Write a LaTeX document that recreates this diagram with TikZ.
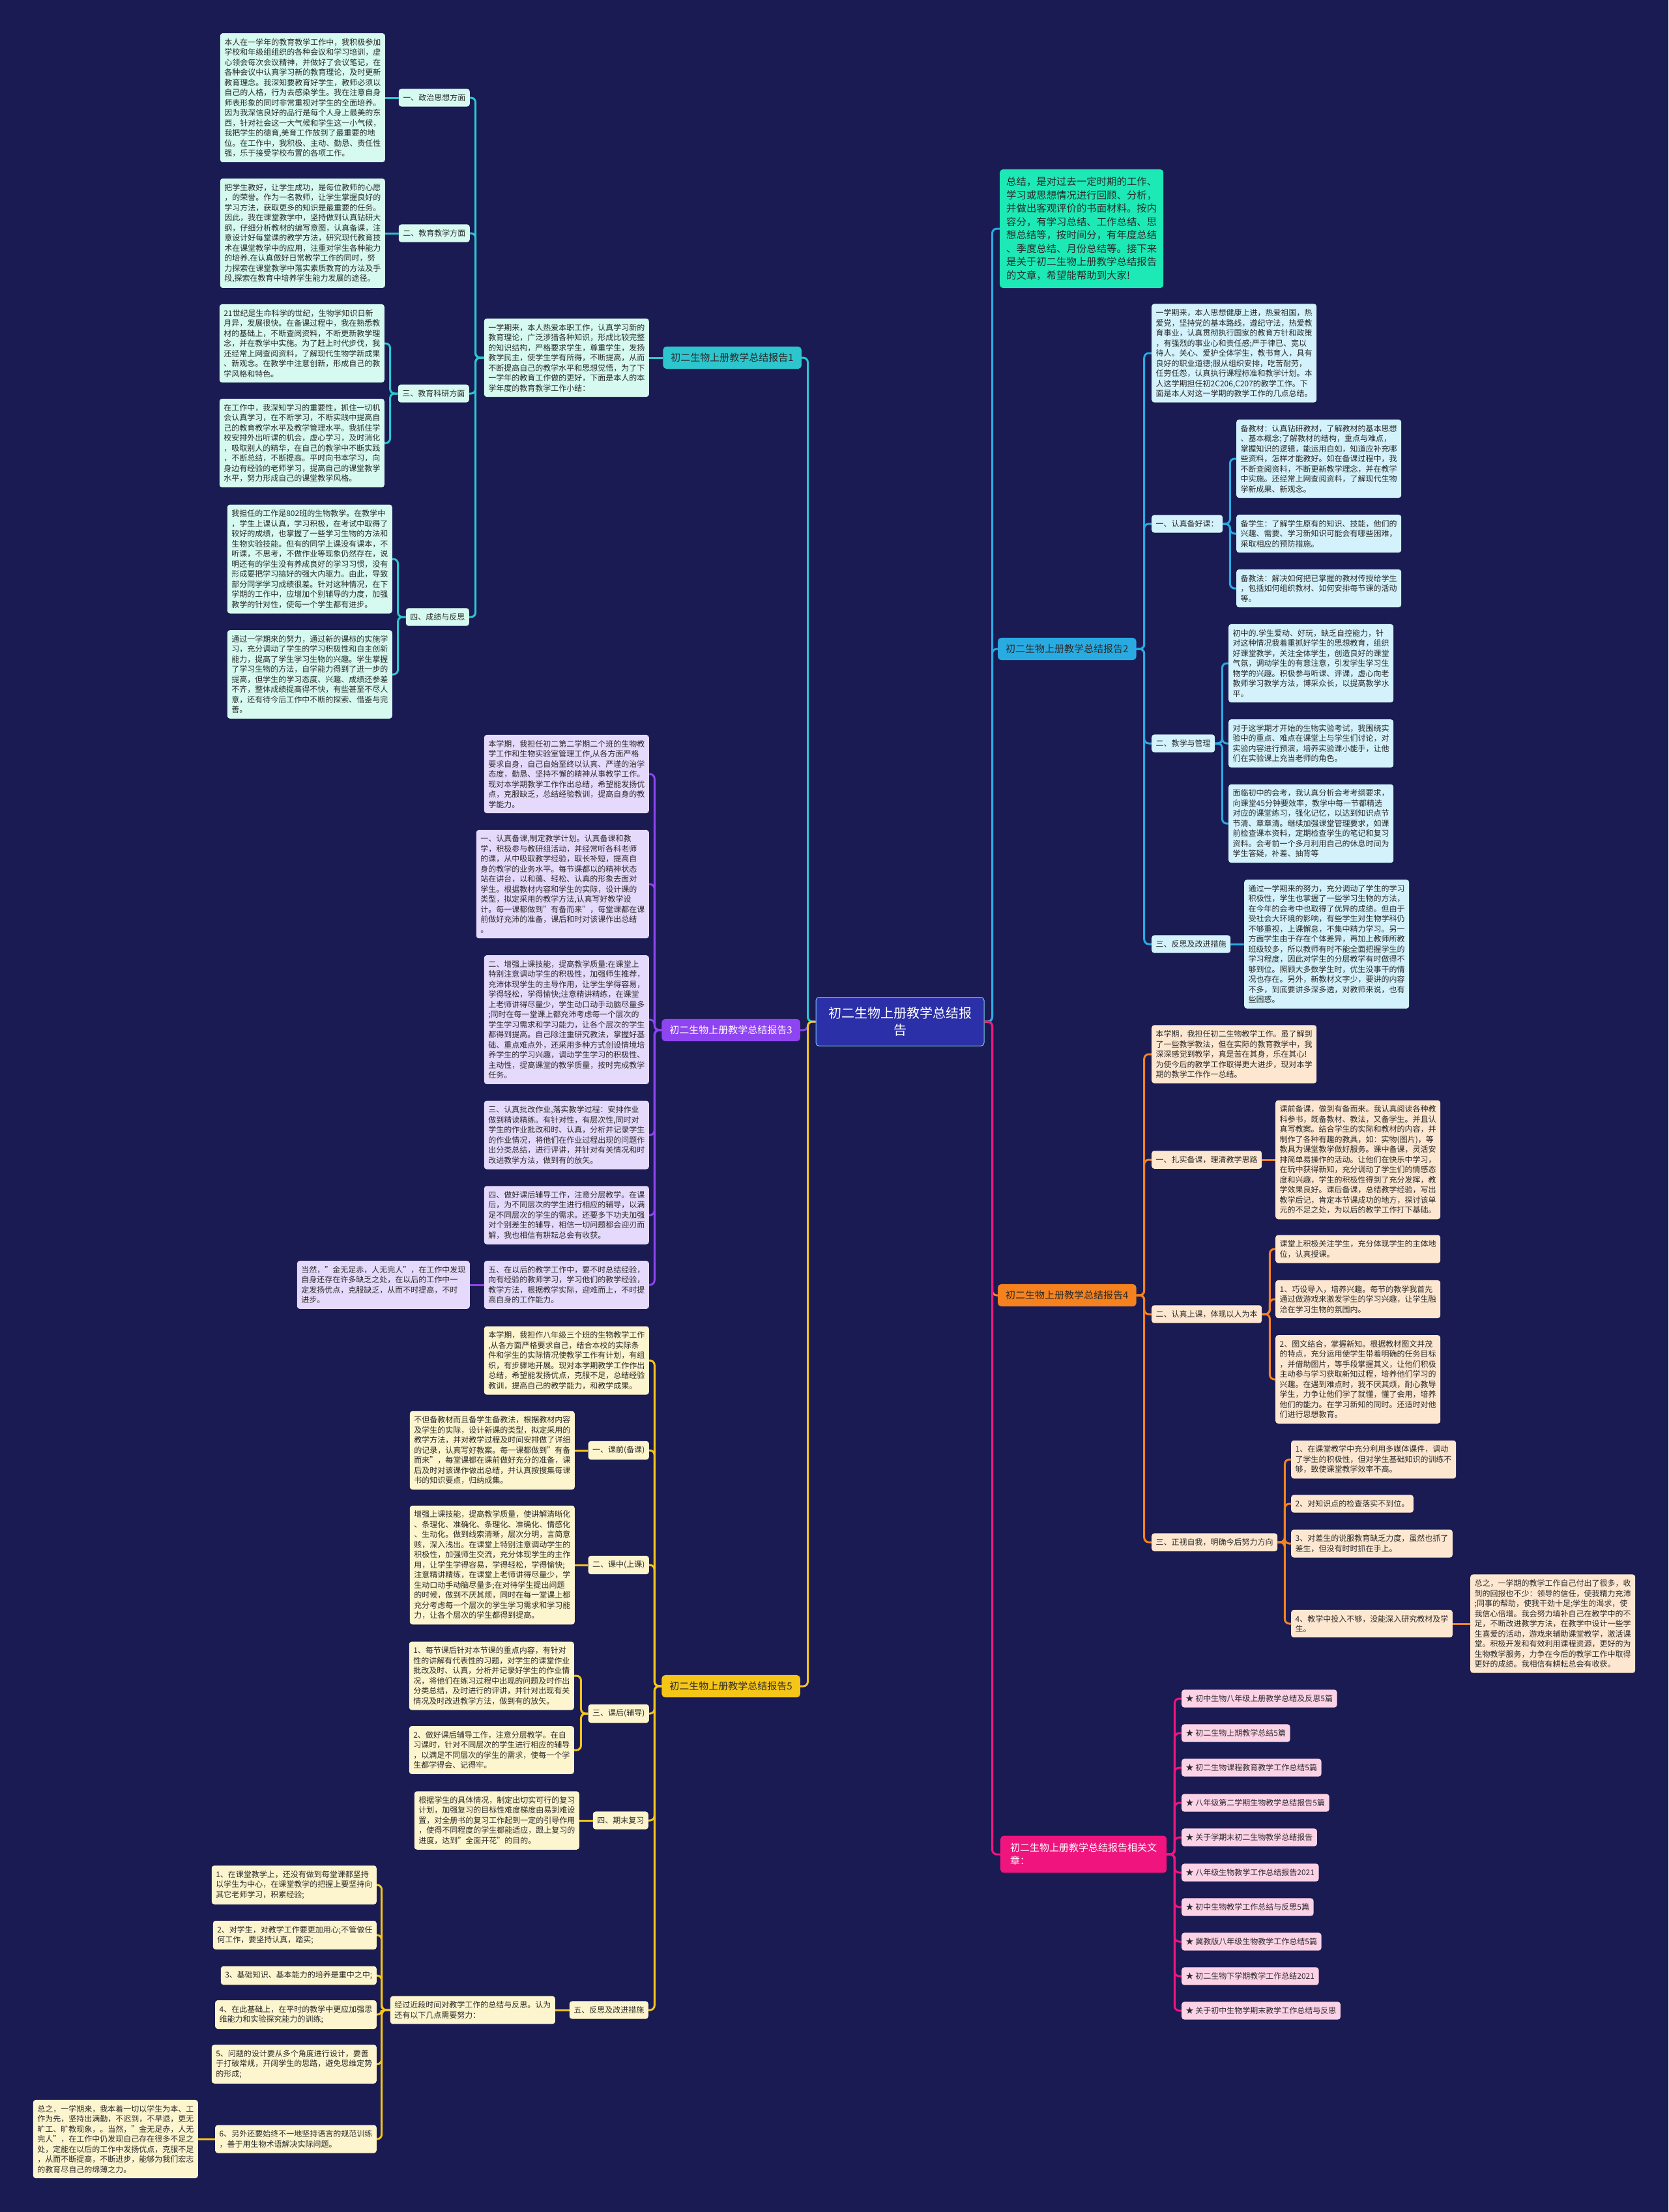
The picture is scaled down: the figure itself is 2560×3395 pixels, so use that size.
\documentclass[tikz,border=0pt]{standalone}
\usepackage{fontspec}
\setmainfont{Noto Sans CJK SC}

\definecolor{bgnavy}{HTML}{1A1B52}
\definecolor{txtdark}{HTML}{2B2B2B}
\definecolor{ctrblue}{HTML}{2B2FA8}
\definecolor{tealline}{HTML}{2DC6CF}
\definecolor{tealfill}{HTML}{D6FAF0}
\definecolor{blueline}{HTML}{29ABE2}
\definecolor{bluefill}{HTML}{D3F2FC}
\definecolor{mintfill}{HTML}{1DE9B6}
\definecolor{purpline}{HTML}{8E44F0}
\definecolor{purpfill}{HTML}{E6DAFC}
\definecolor{orngline}{HTML}{F5821F}
\definecolor{orngfill}{HTML}{FDE7D0}
\definecolor{yellline}{HTML}{F5C518}
\definecolor{yellfill}{HTML}{FDF5CE}
\definecolor{pinkline}{HTML}{F0157E}
\definecolor{pinkfill}{HTML}{FCD2E6}

\tikzset{
  leaf/.style={rectangle, rounded corners=4pt, align=left, inner xsep=6.5pt, inner ysep=8pt,
    text=txtdark, font=\fontsize{12}{15.5}\selectfont},
  tealleaf/.style={leaf, fill=tealfill},
  blueleaf/.style={leaf, fill=bluefill},
  purpleaf/.style={leaf, fill=purpfill},
  orngleaf/.style={leaf, fill=orngfill},
  yellleaf/.style={leaf, fill=yellfill},
  pinkleaf/.style={leaf, fill=pinkfill},
  branch/.style={rectangle, rounded corners=5pt, inner xsep=12pt, inner ysep=10pt,
    font=\fontsize{15}{20}\selectfont},
  tealedge/.style={draw=tealline, line width=3pt, rounded corners=7pt},
  blueedge/.style={draw=blueline, line width=3pt, rounded corners=7pt},
  purpedge/.style={draw=purpline, line width=3pt, rounded corners=7pt},
  orngedge/.style={draw=orngline, line width=3pt, rounded corners=7pt},
  welledge/.style={draw=yellline, line width=3pt, rounded corners=7pt},
  pinkedge/.style={draw=pinkline, line width=3pt, rounded corners=7pt},
}

\begin{document}
\begin{tikzpicture}[x=1pt, y=-1pt]
  \fill[bgnavy] (0,0) rectangle (2560,3395);
  \useasboundingbox (0,0) rectangle (2560,3395);

  % Nodes
  \node (ctr) [rectangle, rounded corners=5pt, fill=ctrblue, draw=blueline!60, line width=1pt, text=white,
    align=center, inner xsep=19pt, inner ysep=15pt, font=\fontsize{20}{26}\selectfont]
    at (1381,1568) {初二生物上册教学总结报\\告};

  % report 1
  \node (r1) [branch, fill=tealline, text=txtdark, anchor=east] at (1230,549) {初二生物上册教学总结报告1};
  \node (in1) [tealleaf, anchor=east] at (996,549) {一学期来，本人热爱本职工作，认真学习新的\\
    教育理论，广泛涉猎各种知识，形成比较完整\\
    的知识结构，严格要求学生，尊重学生，发扬\\
    教学民主，使学生学有所得，不断提高，从而\\
    不断提高自己的教学水平和思想觉悟，为了下\\
    一学年的教育工作做的更好，下面是本人的本\\
    学年度的教育教学工作小结：};
  \node (l1) [tealleaf, anchor=east] at (721,150) {一、政治思想方面};
  \node (l2) [tealleaf, anchor=east] at (721,358) {二、教育教学方面};
  \node (l3) [tealleaf, anchor=east] at (720,604) {三、教育科研方面};
  \node (l4) [tealleaf, anchor=east] at (720,947) {四、成绩与反思};
  \node (a1) [tealleaf, anchor=east] at (591,150) {本人在一学年的教育教学工作中，我积极参加\\
    学校和年级组组织的各种会议和学习培训，虚\\
    心领会每次会议精神，并做好了会议笔记，在\\
    各种会议中认真学习新的教育理论，及时更新\\
    教育理念。我深知要教育好学生，教师必须以\\
    自己的人格，行为去感染学生。我在注意自身\\
    师表形象的同时非常重视对学生的全面培养。\\
    因为我深信良好的品行是每个人身上最美的东\\
    西，针对社会这一大气候和学生这一小气候，\\
    我把学生的德育,美育工作放到了最重要的地\\
    位。在工作中，我积极、主动、勤恳、责任性\\
    强，乐于接受学校布置的各项工作。};
  \node (a2) [tealleaf, anchor=east] at (591,358) {把学生教好，让学生成功，是每位教师的心愿\\
    ，的荣誉。作为一名教师，让学生掌握良好的\\
    学习方法，获取更多的知识是最重要的任务。\\
    因此，我在课堂教学中，坚持做到认真钻研大\\
    纲，仔细分析教材的编写意图，认真备课，注\\
    意设计好每堂课的教学方法，研究现代教育技\\
    术在课堂教学中的应用，注重对学生各种能力\\
    的培养.在认真做好日常教学工作的同时，努\\
    力探索在课堂教学中落实素质教育的方法及手\\
    段,探索在教育中培养学生能力发展的途径。};
  \node (a3) [tealleaf, anchor=east] at (590,527) {21世纪是生命科学的世纪，生物学知识日新\\
    月异，发展很快。在备课过程中，我在熟悉教\\
    材的基础上，不断查阅资料，不断更新教学理\\
    念，并在教学中实施。为了赶上时代步伐，我\\
    还经常上网查阅资料，了解现代生物学新成果\\
    、新观念。在教学中注意创新，形成自己的教\\
    学风格和特色。};
  \node (a4) [tealleaf, anchor=east] at (590,680) {在工作中，我深知学习的重要性，抓住一切机\\
    会认真学习，在不断学习，不断实践中提高自\\
    己的教育教学水平及教学管理水平。我抓住学\\
    校安排外出听课的机会，虚心学习，及时消化\\
    ，吸取别人的精华，在自己的教学中不断实践\\
    ，不断总结，不断提高。平时向书本学习，向\\
    身边有经验的老师学习，提高自己的课堂教学\\
    水平，努力形成自己的课堂教学风格。};
  \node (a5) [tealleaf, anchor=east] at (602,858) {我担任的工作是802班的生物教学。在教学中\\
    ，学生上课认真，学习积极，在考试中取得了\\
    较好的成绩，也掌握了一些学习生物的方法和\\
    生物实验技能。但有的同学上课没有课本，不\\
    听课，不思考，不做作业等现象仍然存在，说\\
    明还有的学生没有养成良好的学习习惯，没有\\
    形成要把学习搞好的强大内驱力。由此，导致\\
    部分同学学习成绩很差。针对这种情况，在下\\
    学期的工作中，应增加个别辅导的力度，加强\\
    教学的针对性，使每一个学生都有进步。};
  \node (a6) [tealleaf, anchor=east] at (602,1035) {通过一学期来的努力，通过新的课标的实施学\\
    习，充分调动了学生的学习积极性和自主创新\\
    能力，提高了学生学习生物的兴趣。学生掌握\\
    了学习生物的方法，自学能力得到了进一步的\\
    提高，但学生的学习态度、兴趣、成绩还参差\\
    不齐，整体成绩提高得不快，有些甚至不尽人\\
    意，还有待今后工作中不断的探索、借鉴与完\\
    善。};

  % report 3
  \node (r3) [branch, fill=purpline, text=white, anchor=east] at (1228,1581) {初二生物上册教学总结报告3};
  \node (b0) [purpleaf, anchor=east] at (996,1188) {本学期，我担任初二第二学期二个班的生物教\\
    学工作和生物实验室管理工作,从各方面严格\\
    要求自身，自己自始至终以认真、严谨的治学\\
    态度，勤恳、坚持不懈的精神从事教学工作。\\
    现对本学期教学工作作出总结，希望能发扬优\\
    点，克服缺乏，总结经验教训，提高自身的教\\
    学能力。};
  \node (b1) [purpleaf, anchor=east] at (996,1357) {一、认真备课,制定教学计划。认真备课和教\\
    学，积极参与教研组活动，并经常听各科老师\\
    的课，从中吸取教学经验，取长补短，提高自\\
    身的教学的业务水平。每节课都以的精神状态\\
    站在讲台，以和蔼、轻松、认真的形象去面对\\
    学生。根据教材内容和学生的实际，设计课的\\
    类型，拟定采用的教学方法,认真写好教学设\\
    计。每一课都做到"有备而来"，每堂课都在课\\
    前做好充沛的准备，课后和时对该课作出总结\\
    。};
  \node (b2) [purpleaf, anchor=east] at (996,1565) {二、增强上课技能，提高教学质量:在课堂上\\
    特别注意调动学生的积极性，加强师生推荐，\\
    充沛体现学生的主导作用，让学生学得容易，\\
    学得轻松，学得愉快;注意精讲精练，在课堂\\
    上老师讲得尽量少，学生动口动手动脑尽量多\\
    ;同时在每一堂课上都充沛考虑每一个层次的\\
    学生学习需求和学习能力，让各个层次的学生\\
    都得到提高。自己除注重研究教法，掌握好基\\
    础、重点难点外，还采用多种方式创设情境培\\
    养学生的学习兴趣，调动学生学习的积极性、\\
    主动性，提高课堂的教学质量，按时完成教学\\
    任务。};
  \node (b3) [purpleaf, anchor=east] at (996,1742) {三、认真批改作业,落实教学过程：安排作业\\
    做到精读精练。有针对性，有层次性,同时对\\
    学生的作业批改和时、认真，分析并记录学生\\
    的作业情况，将他们在作业过程出现的问题作\\
    出分类总结，进行评讲，并针对有关情况和时\\
    改进教学方法，做到有的放矢。};
  \node (b4) [purpleaf, anchor=east] at (996,1865) {四、做好课后辅导工作，注意分层教学。在课\\
    后，为不同层次的学生进行相应的辅导，以满\\
    足不同层次的学生的需求。还要多下功夫加强\\
    对个别差生的辅导，相信一切问题都会迎刃而\\
    解，我也相信有耕耘总会有收获。};
  \node (b5) [purpleaf, anchor=east] at (996,1972) {五、在以后的教学工作中，要不时总结经验，\\
    向有经验的教师学习，学习他们的教学经验，\\
    教学方法，根据教学实际，迎难而上，不时提\\
    高自身的工作能力。};
  \node (b5n) [purpleaf, anchor=east] at (721,1972) {当然，"金无足赤，人无完人"，在工作中发现\\
    自身还存在许多缺乏之处，在以后的工作中一\\
    定发扬优点，克服缺乏，从而不时提高，不时\\
    进步。};

  % report 5
  \node (r5) [branch, fill=yellline, text=txtdark, anchor=east] at (1228,2588) {初二生物上册教学总结报告5};
  \node (c0) [yellleaf, anchor=east] at (996,2088) {本学期，我担作八年级三个班的生物教学工作\\
    ,从各方面严格要求自己，结合本校的实际条\\
    件和学生的实际情况使教学工作有计划，有组\\
    织，有步骤地开展。现对本学期教学工作作出\\
    总结，希望能发扬优点，克服不足，总结经验\\
    教训，提高自己的教学能力，和教学成果。};
  \node (k1) [yellleaf, anchor=east] at (996,2226) {一、课前(备课)};
  \node (k2) [yellleaf, anchor=east] at (996,2402) {二、课中(上课)};
  \node (k3) [yellleaf, anchor=east] at (996,2630) {三、课后(辅导)};
  \node (k4) [yellleaf, anchor=east] at (995,2794) {四、期末复习};
  \node (k5) [yellleaf, anchor=east] at (995,3085) {五、反思及改进措施};
  \node (c1) [yellleaf, anchor=east] at (882,2226) {不但备教材而且备学生备教法，根据教材内容\\
    及学生的实际，设计新课的类型，拟定采用的\\
    教学方法，并对教学过程及时间安排做了详细\\
    的记录，认真写好教案。每一课都做到"有备\\
    而来"，每堂课都在课前做好充分的准备，课\\
    后及时对该课作做出总结，并认真按搜集每课\\
    书的知识要点，归纳成集。};
  \node (c2) [yellleaf, anchor=east] at (882,2402) {增强上课技能，提高教学质量，使讲解清晰化\\
    、条理化、准确化、条理化、准确化、情感化\\
    、生动化。做到线索清晰，层次分明，言简意\\
    赅，深入浅出。在课堂上特别注意调动学生的\\
    积极性，加强师生交流，充分体现学生的主作\\
    用，让学生学得容易，学得轻松，学得愉快;\\
    注意精讲精练，在课堂上老师讲得尽量少，学\\
    生动口动手动脑尽量多;在对待学生提出问题\\
    的时候，做到不厌其烦，同时在每一堂课上都\\
    充分考虑每一个层次的学生学习需求和学习能\\
    力，让各个层次的学生都得到提高。};
  \node (c3a) [yellleaf, anchor=east] at (881,2572) {1、每节课后针对本节课的重点内容，有针对\\
    性的讲解有代表性的习题，对学生的课堂作业\\
    批改及时、认真，分析并记录好学生的作业情\\
    况，将他们在练习过程中出现的问题及时作出\\
    分类总结，及时进行的评讲，并针对出现有关\\
    情况及时改进教学方法，做到有的放矢。};
  \node (c3b) [yellleaf, anchor=east] at (881,2686) {2、做好课后辅导工作，注意分层教学。在自\\
    习课时，针对不同层次的学生进行相应的辅导\\
    ，以满足不同层次的学生的需求，使每一个学\\
    生都学得会、记得牢。};
  \node (c4) [yellleaf, anchor=east] at (889,2794) {根据学生的具体情况，制定出切实可行的复习\\
    计划，加强复习的目标性难度梯度由易到难设\\
    置，对全册书的复习工作起到一定的引导作用\\
    ，使得不同程度的学生都能适应，跟上复习的\\
    进度，达到"全面开花"的目的。};
  \node (c5) [yellleaf, anchor=east] at (852,3085) {经过近段时间对教学工作的总结与反思。认为\\
    还有以下几点需要努力：};
  \node (p1) [yellleaf, anchor=east] at (578,2893) {1、在课堂教学上，还没有做到每堂课都坚持\\
    以学生为中心，在课堂教学的把握上要坚持向\\
    其它老师学习，积累经验;};
  \node (p2) [yellleaf, anchor=east] at (578,2970) {2、对学生，对教学工作要更加用心;不管做任\\
    何工作，要坚持认真，踏实;};
  \node (p3) [yellleaf, anchor=east] at (578,3032) {3、基础知识、基本能力的培养是重中之中;};
  \node (p4) [yellleaf, anchor=east] at (578,3092) {4、在此基础上，在平时的教学中更应加强思\\
    维能力和实验探究能力的训练;};
  \node (p5) [yellleaf, anchor=east] at (578,3168) {5、问题的设计要从多个角度进行设计，要善\\
    于打破常规，开阔学生的思路，避免思维定势\\
    的形成;};
  \node (p6) [yellleaf, anchor=east] at (578,3283) {6、另外还要始终不一地坚持语言的规范训练\\
    ，善于用生物术语解决实际问题。};
  \node (p6n) [yellleaf, anchor=east] at (304,3283) {总之，一学期来，我本着一切以学生为本、工\\
    作为先，坚持出满勤，不迟到，不早退，更无\\
    旷工、旷教现象，。当然，"金无足赤，人无\\
    完人"，在工作中仍发现自己存在很多不足之\\
    处，定能在以后的工作中发扬优点，克服不足\\
    ，从而不断提高，不断进步，能够为我们宏志\\
    的教育尽自己的绵薄之力。};

  % summary and report 2
  \node (sum) [rectangle, rounded corners=5pt, fill=mintfill, text=txtdark, align=left, inner xsep=10pt,
    inner ysep=12pt, font=\fontsize{15.4}{20.5}\selectfont, anchor=west] at (1534,351) {总结，是对过去一定时期的工作、\\
    学习或思想情况进行回顾、分析，\\
    并做出客观评价的书面材料。按内\\
    容分，有学习总结、工作总结、思\\
    想总结等，按时间分，有年度总结\\
    、季度总结、月份总结等。接下来\\
    是关于初二生物上册教学总结报告\\
    的文章，希望能帮助到大家!};
  \node (r2) [branch, fill=blueline, text=txtdark, anchor=west] at (1531,996) {初二生物上册教学总结报告2};
  \node (in2) [blueleaf, anchor=west] at (1767,542) {一学期来，本人思想健康上进，热爱祖国，热\\
    爱党，坚持党的基本路线，遵纪守法，热爱教\\
    育事业，认真贯彻执行国家的教育方针和政策\\
    ，有强烈的事业心和责任感;严于律已、宽以\\
    待人。关心、爱护全体学生，教书育人，具有\\
    良好的职业道德;服从组织安排，吃苦耐劳，\\
    任劳任怨，认真执行课程标准和教学计划。本\\
    人这学期担任初2C206,C207的教学工作。下\\
    面是本人对这一学期的教学工作的几点总结。};
  \node (d1) [blueleaf, anchor=west] at (1767,804) {一、认真备好课：};
  \node (d2) [blueleaf, anchor=west] at (1767,1141) {二、教学与管理};
  \node (d3) [blueleaf, anchor=west] at (1767,1449) {三、反思及改进措施};
  \node (d1a) [blueleaf, anchor=west] at (1897,704) {备教材：认真钻研教材，了解教材的基本思想\\
    、基本概念;了解教材的结构，重点与难点，\\
    掌握知识的逻辑，能运用自如，知道应补充哪\\
    些资料，怎样才能教好。如在备课过程中，我\\
    不断查阅资料，不断更新教学理念，并在教学\\
    中实施。还经常上网查阅资料，了解现代生物\\
    学新成果、新观念。};
  \node (d1b) [blueleaf, anchor=west] at (1897,819) {备学生：了解学生原有的知识、技能，他们的\\
    兴趣、需要、学习新知识可能会有哪些困难，\\
    采取相应的预防措施。};
  \node (d1c) [blueleaf, anchor=west] at (1897,903) {备教法：解决如何把已掌握的教材传授给学生\\
    ，包括如何组织教材、如何安排每节课的活动\\
    等。};
  \node (d2a) [blueleaf, anchor=west] at (1885,1018) {初中的.学生爱动、好玩，缺乏自控能力，针\\
    对这种情况我着重抓好学生的思想教育，组织\\
    好课堂教学，关注全体学生，创造良好的课堂\\
    气氛，调动学生的有意注意，引发学生学习生\\
    物学的兴趣。积极参与听课、评课，虚心向老\\
    教师学习教学方法，博采众长，以提高教学水\\
    平。};
  \node (d2b) [blueleaf, anchor=west] at (1885,1141) {对于这学期才开始的生物实验考试，我围绕实\\
    验中的重点、难点在课堂上与学生们讨论，对\\
    实验内容进行预演，培养实验课小能手，让他\\
    们在实验课上充当老师的角色。};
  \node (d2c) [blueleaf, anchor=west] at (1885,1264) {面临初中的会考，我认真分析会考考纲要求，\\
    向课堂45分钟要效率，教学中每一节都精选\\
    对应的课堂练习，强化记忆，以达到知识点节\\
    节清、章章清。继续加强课堂管理要求，如课\\
    前检查课本资料，定期检查学生的笔记和复习\\
    资料。会考前一个多月利用自己的休息时间为\\
    学生答疑，补差、抽背等};
  \node (d3a) [blueleaf, anchor=west] at (1909,1449) {通过一学期来的努力，充分调动了学生的学习\\
    积极性，学生也掌握了一些学习生物的方法，\\
    在今年的会考中也取得了优异的成绩。但由于\\
    受社会大环境的影响，有些学生对生物学科仍\\
    不够重视，上课懈怠，不集中精力学习。另一\\
    方面学生由于存在个体差异，再加上教师所教\\
    班级较多，所以教师有时不能全面把握学生的\\
    学习程度，因此对学生的分层教学有时做得不\\
    够到位。照顾大多数学生时，优生没事干的情\\
    况也存在。另外，新教材文字少，要讲的内容\\
    不多，到底要讲多深多透，对教师来说，也有\\
    些困惑。};

  % report 4
  \node (r4) [branch, fill=orngline, text=txtdark, anchor=west] at (1531,1988) {初二生物上册教学总结报告4};
  \node (e0) [orngleaf, anchor=west] at (1767,1618) {本学期，我担任初二生物教学工作。虽了解到\\
    了一些教学教法，但在实际的教育教学中，我\\
    深深感觉到教学，真是苦在其身，乐在其心!\\
    为使今后的教学工作取得更大进步，现对本学\\
    期的教学工作作一总结。};
  \node (e1) [orngleaf, anchor=west] at (1767,1780) {一、扎实备课，理清教学思路};
  \node (e2) [orngleaf, anchor=west] at (1767,2017) {二、认真上课，体现以人为本};
  \node (e3) [orngleaf, anchor=west] at (1767,2367) {三、正视自我，明确今后努力方向};
  \node (e1a) [orngleaf, anchor=west] at (1957,1780) {课前备课，做到有备而来。我认真阅读各种教\\
    科参书，既备教材、教法，又备学生。并且认\\
    真写教案。结合学生的实际和教材的内容，并\\
    制作了各种有趣的教具，如：实物(图片)，等\\
    教具为课堂教学做好服务。课中备课，灵活安\\
    排简单易操作的活动。让他们在快乐中学习，\\
    在玩中获得新知，充分调动了学生们的情感态\\
    度和兴趣，学生的积极性得到了充分发挥，教\\
    学效果良好。课后备课，总结教学经验，写出\\
    教学后记，肯定本节课成功的地方，探讨该单\\
    元的不足之处，为以后的教学工作打下基础。};
  \node (e2a) [orngleaf, anchor=west] at (1957,1917) {课堂上积极关注学生，充分体现学生的主体地\\
    位，认真授课。};
  \node (e2b) [orngleaf, anchor=west] at (1957,1994) {1、巧设导入，培养兴趣。每节的教学我首先\\
    通过做游戏来激发学生的学习兴趣，让学生融\\
    洽在学习生物的氛围内。};
  \node (e2c) [orngleaf, anchor=west] at (1957,2117) {2、图文结合，掌握新知。根据教材图文并茂\\
    的特点，充分运用使学生带着明确的任务目标\\
    ，并借助图片，等手段掌握其义，让他们积极\\
    主动参与学习获取新知过程，培养他们学习的\\
    兴趣。在遇到难点时，我不厌其烦，耐心教导\\
    学生，力争让他们学了就懂，懂了会用，培养\\
    他们的能力。在学习新知的同时。还适时对他\\
    们进行思想教育。};
  \node (e3a) [orngleaf, anchor=west] at (1981,2240) {1、在课堂教学中充分利用多媒体课件，调动\\
    了学生的积极性，但对学生基础知识的训练不\\
    够，致使课堂教学效率不高。};
  \node (e3b) [orngleaf, anchor=west] at (1981,2308) {2、对知识点的检查落实不到位。};
  \node (e3c) [orngleaf, anchor=west] at (1981,2369) {3、对差生的说服教育缺乏力度，虽然也抓了\\
    差生，但没有时时抓在手上。};
  \node (e3d) [orngleaf, anchor=west] at (1981,2492) {4、教学中投入不够，没能深入研究教材及学\\
    生。};
  \node (e3n) [orngleaf, anchor=west] at (2256,2492) {总之，一学期的教学工作自己付出了很多，收\\
    到的回报也不少：领导的信任，使我精力充沛\\
    ;同事的帮助，使我干劲十足;学生的渴求，使\\
    我信心倍增。我会努力填补自己在教学中的不\\
    足，不断改进教学方法，在教学中设计一些学\\
    生喜爱的活动，游戏来辅助课堂教学，激活课\\
    堂。积极开发和有效利用课程资源，更好的为\\
    生物教学服务，力争在今后的教学工作中取得\\
    更好的成绩。我相信有耕耘总会有收获。};

  % related articles
  \node (r6) [branch, fill=pinkline, text=white, align=left, inner xsep=15pt, inner ysep=11.5pt,
    anchor=west] at (1535,2846) {初二生物上册教学总结报告相关文\\章：};
  \node (g1) [pinkleaf, anchor=west] at (1813,2607) {★ 初中生物八年级上册教学总结及反思5篇};
  \node (g2) [pinkleaf, anchor=west] at (1813,2660) {★ 初二生物上期教学总结5篇};
  \node (g3) [pinkleaf, anchor=west] at (1813,2713) {★ 初二生物课程教育教学工作总结5篇};
  \node (g4) [pinkleaf, anchor=west] at (1813,2767) {★ 八年级第二学期生物教学总结报告5篇};
  \node (g5) [pinkleaf, anchor=west] at (1813,2820) {★ 关于学期末初二生物教学总结报告};
  \node (g6) [pinkleaf, anchor=west] at (1813,2874) {★ 八年级生物教学工作总结报告2021};
  \node (g7) [pinkleaf, anchor=west] at (1813,2927) {★ 初中生物教学工作总结与反思5篇};
  \node (g8) [pinkleaf, anchor=west] at (1813,2980) {★ 冀教版八年级生物教学工作总结5篇};
  \node (g9) [pinkleaf, anchor=west] at (1813,3033) {★ 初二生物下学期教学工作总结2021};
  \node (g10) [pinkleaf, anchor=west] at (1813,3086) {★ 关于初中生物学期末教学工作总结与反思};

  % Edges
  \draw[tealedge] (ctr.west) -- ++(-12,0) |- (r1.east);
  \draw[purpedge] (ctr.west) -- ++(-12,0) |- (r3.east);
  \draw[welledge] (ctr.west) -- ++(-12,0) |- (r5.east);
  \draw[blueedge] (ctr.east) -- ++(12,0) |- (sum.west);
  \draw[blueedge] (ctr.east) -- ++(12,0) |- (r2.west);
  \draw[orngedge] (ctr.east) -- ++(12,0) |- (r4.west);
  \draw[pinkedge] (ctr.east) -- ++(12,0) |- (r6.west);

  \draw[tealedge] (r1.west) -- (in1.east);
  \draw[tealedge] (in1.west) -- ++(-13,0) |- (l1.east);
  \draw[tealedge] (in1.west) -- ++(-13,0) |- (l2.east);
  \draw[tealedge] (in1.west) -- ++(-13,0) |- (l3.east);
  \draw[tealedge] (in1.west) -- ++(-13,0) |- (l4.east);
  \draw[tealedge] (l1.west) -- (a1.east);
  \draw[tealedge] (l2.west) -- (a2.east);
  \draw[tealedge] (l3.west) -- ++(-12,0) |- (a3.east);
  \draw[tealedge] (l3.west) -- ++(-12,0) |- (a4.east);
  \draw[tealedge] (l4.west) -- ++(-12,0) |- (a5.east);
  \draw[tealedge] (l4.west) -- ++(-12,0) |- (a6.east);

  \draw[purpedge] (r3.west) -- ++(-11,0) |- (b0.east);
  \draw[purpedge] (r3.west) -- ++(-11,0) |- (b1.east);
  \draw[purpedge] (r3.west) -- ++(-11,0) |- (b2.east);
  \draw[purpedge] (r3.west) -- ++(-11,0) |- (b3.east);
  \draw[purpedge] (r3.west) -- ++(-11,0) |- (b4.east);
  \draw[purpedge] (r3.west) -- ++(-11,0) |- (b5.east);
  \draw[purpedge] (b5.west) -- (b5n.east);

  \draw[welledge] (r5.west) -- ++(-11,0) |- (c0.east);
  \draw[welledge] (r5.west) -- ++(-11,0) |- (k1.east);
  \draw[welledge] (r5.west) -- ++(-11,0) |- (k2.east);
  \draw[welledge] (r5.west) -- ++(-11,0) |- (k3.east);
  \draw[welledge] (r5.west) -- ++(-11,0) |- (k4.east);
  \draw[welledge] (r5.west) -- ++(-11,0) |- (k5.east);
  \draw[welledge] (k1.west) -- (c1.east);
  \draw[welledge] (k2.west) -- (c2.east);
  \draw[welledge] (k3.west) -- ++(-11,0) |- (c3a.east);
  \draw[welledge] (k3.west) -- ++(-11,0) |- (c3b.east);
  \draw[welledge] (k4.west) -- (c4.east);
  \draw[welledge] (k5.west) -- (c5.east);
  \draw[welledge] (c5.west) -- ++(-13,0) |- (p1.east);
  \draw[welledge] (c5.west) -- ++(-13,0) |- (p2.east);
  \draw[welledge] (c5.west) -- ++(-13,0) |- (p3.east);
  \draw[welledge] (c5.west) -- ++(-13,0) |- (p4.east);
  \draw[welledge] (c5.west) -- ++(-13,0) |- (p5.east);
  \draw[welledge] (c5.west) -- ++(-13,0) |- (p6.east);
  \draw[welledge] (p6.west) -- (p6n.east);

  \draw[blueedge] (r2.east) -- ++(12,0) |- (in2.west);
  \draw[blueedge] (r2.east) -- ++(12,0) |- (d1.west);
  \draw[blueedge] (r2.east) -- ++(12,0) |- (d2.west);
  \draw[blueedge] (r2.east) -- ++(12,0) |- (d3.west);
  \draw[blueedge] (d1.east) -- ++(11,0) |- (d1a.west);
  \draw[blueedge] (d1.east) -- ++(11,0) |- (d1b.west);
  \draw[blueedge] (d1.east) -- ++(11,0) |- (d1c.west);
  \draw[blueedge] (d2.east) -- ++(11,0) |- (d2a.west);
  \draw[blueedge] (d2.east) -- ++(11,0) |- (d2b.west);
  \draw[blueedge] (d2.east) -- ++(11,0) |- (d2c.west);
  \draw[blueedge] (d3.east) -- (d3a.west);

  \draw[orngedge] (r4.east) -- ++(12,0) |- (e0.west);
  \draw[orngedge] (r4.east) -- ++(12,0) |- (e1.west);
  \draw[orngedge] (r4.east) -- ++(12,0) |- (e2.west);
  \draw[orngedge] (r4.east) -- ++(12,0) |- (e3.west);
  \draw[orngedge] (e1.east) -- (e1a.west);
  \draw[orngedge] (e2.east) -- ++(12,0) |- (e2a.west);
  \draw[orngedge] (e2.east) -- ++(12,0) |- (e2b.west);
  \draw[orngedge] (e2.east) -- ++(12,0) |- (e2c.west);
  \draw[orngedge] (e3.east) -- ++(11,0) |- (e3a.west);
  \draw[orngedge] (e3.east) -- ++(11,0) |- (e3b.west);
  \draw[orngedge] (e3.east) -- ++(11,0) |- (e3c.west);
  \draw[orngedge] (e3.east) -- ++(11,0) |- (e3d.west);
  \draw[orngedge] (e3d.east) -- (e3n.west);

  \foreach \g in {g1,g2,g3,g4,g5,g6,g7,g8,g9,g10}
    \draw[pinkedge] (r6.east) -- ++(12,0) |- (\g.west);
\end{tikzpicture}
\end{document}
